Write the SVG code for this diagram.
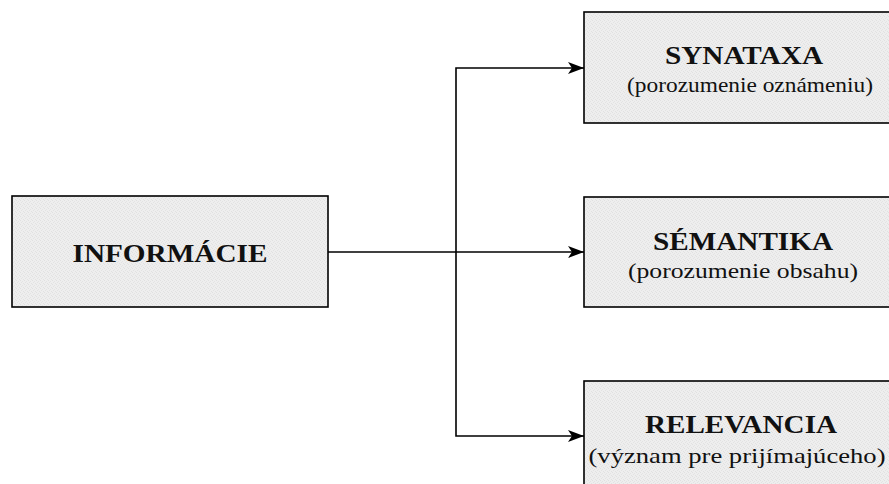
<svg xmlns="http://www.w3.org/2000/svg" width="889" height="484" viewBox="0 0 889 484">
  <style>
    .box { fill: url(#grain); stroke: #000; stroke-width: 1.6; }
    .title { font-family: 'Liberation Serif', serif; font-weight: bold; font-size: 25px; fill: #111; text-anchor: middle; }
    .sub { font-family: 'Liberation Serif', serif; font-size: 21px; fill: #111; text-anchor: middle; }
    .wire { fill: none; stroke: #000; stroke-width: 1.6; }
  </style>
  <defs>
    <!-- light grey stippled box fill -->
    <pattern id="grain" width="4" height="4" patternUnits="userSpaceOnUse">
      <rect width="4" height="4" fill="#eeeeee"/>
      <rect x="0" y="0" width="1" height="1" fill="#e0e0e0"/>
      <rect x="2" y="1" width="1" height="1" fill="#e3e3e3"/>
      <rect x="1" y="2" width="1" height="1" fill="#e2e2e2"/>
      <rect x="3" y="3" width="1" height="1" fill="#e1e1e1"/>
    </pattern>
    <marker id="arrow" viewBox="0 0 16 12" refX="16" refY="6" markerWidth="16" markerHeight="12" markerUnits="userSpaceOnUse" orient="auto">
      <path d="M0,0 L16,6 L0,12 L4,6 Z" fill="#000"/>
    </marker>
  </defs>

  <!-- fan-out connectors from the source box -->
  <g id="connectors">
    <path class="wire" d="M328,252 H584" marker-end="url(#arrow)"/>
    <path class="wire" d="M456,252 V68 H584" marker-end="url(#arrow)"/>
    <path class="wire" d="M456,252 V436 H584" marker-end="url(#arrow)"/>
  </g>

  <g id="informacie">
    <rect class="box" x="12" y="196" width="316" height="111"/>
    <text class="title" x="170" y="262" textLength="195" lengthAdjust="spacingAndGlyphs">INFORMÁCIE</text>
  </g>

  <g id="syntax">
    <rect class="box" x="584" y="12" width="320" height="111"/>
    <text class="title" x="744" y="64" textLength="158" lengthAdjust="spacingAndGlyphs">SYNATAXA</text>
    <text class="sub" x="750" y="92" textLength="246" lengthAdjust="spacingAndGlyphs">(porozumenie oznámeniu)</text>
  </g>

  <g id="semantics">
    <rect class="box" x="584" y="197" width="320" height="110"/>
    <text class="title" x="743" y="250" textLength="180" lengthAdjust="spacingAndGlyphs">SÉMANTIKA</text>
    <text class="sub" x="743" y="278" textLength="230" lengthAdjust="spacingAndGlyphs">(porozumenie obsahu)</text>
  </g>

  <g id="relevance">
    <rect class="box" x="584" y="381" width="320" height="120"/>
    <text class="title" x="741" y="433" textLength="192" lengthAdjust="spacingAndGlyphs">RELEVANCIA</text>
    <text class="sub" x="737" y="463" textLength="297" lengthAdjust="spacingAndGlyphs">(význam pre prijímajúceho)</text>
  </g>
</svg>
